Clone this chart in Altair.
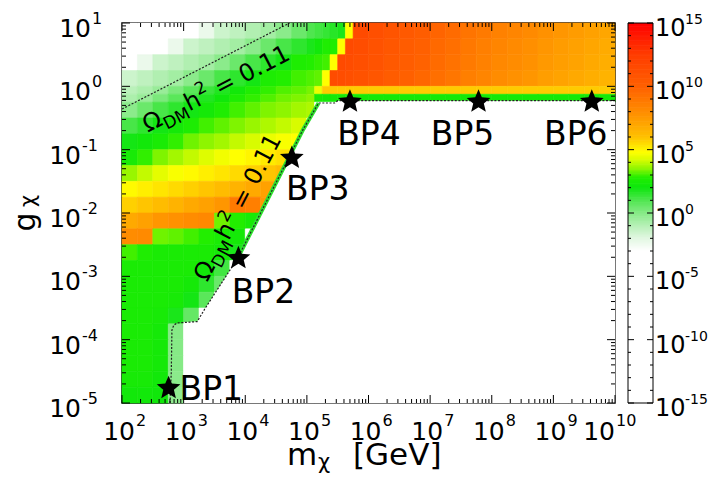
import altair as alt
import numpy as np
import pandas as pd

FONT = "DejaVu Sans"
W_PLOT, H_PLOT = 493, 380
W = -15.0  # white (below colour range)

# ---------------- heat-map grid: log10 of the colour quantity ----------------
# cell edges in log10(m_chi / GeV) and log10(g_chi)
x_edges = [2.0, 2.25, 2.5, 2.75, 3.0, 3.25, 3.5, 3.75, 4.0, 4.25, 4.5, 4.75, 5.0,
           5.125, 5.25, 5.375, 5.5, 5.625, 5.75, 6.0, 6.25, 6.5, 6.75, 7.0, 7.25,
           7.5, 7.75, 8.0, 8.25, 8.5, 8.75, 9.0, 9.25, 9.5, 9.75, 10.0]
y_edges = [-5.0, -4.75, -4.5, -4.25, -4.0, -3.75, -3.5, -3.25, -3.0, -2.75, -2.5,
           -2.25, -2.0, -1.75, -1.5, -1.25, -1.0, -0.75, -0.5, -0.25, -0.125, 0.0,
           0.25, 0.5, 0.75, 1.0]

# rows from top (g ~ 10^0.875) to bottom (g ~ 10^-4.875)
row24 = [-6.0, -5.4, -4.6, -3.9, -3.1, -2.3, -1.5, -1.2, -0.9, -0.6, -0.1, 0.5,
         1.0, 1.2, 1.4, 1.6, 1.8, 4.8,
         11.5, 11.2, 10.8, 10.5, 10.2, 9.8, 9.5, 9.1, 8.8, 8.5, 8.3, 8.1, 7.8, 7.6, 7.4, 7.2, 7.0]
row23 = [-4.6, -3.9, -3.1, -2.3, -1.5, -1.2, -0.9, -0.6, -0.1, 0.5, 1.1, 1.5,
         1.8, 2.2, 2.7, 2.7, 4.8, 11.5,
         11.3, 11.0, 10.6, 10.3, 10.0, 9.6, 9.3, 8.9, 8.6, 8.3, 8.1, 7.9, 7.6, 7.4, 7.2, 7.0, 6.8]
row22 = [-3.1, -2.3, -1.5, -1.2, -0.9, -0.6, -0.1, 0.5, 1.1, 1.5, 1.9, 2.65,
         2.8, 2.9, 3.0, 4.8, 11.5, 11.4,
         11.2, 10.9, 10.5, 10.2, 9.9, 9.5, 9.2, 8.8, 8.5, 8.2, 8.0, 7.8, 7.5, 7.3, 7.1, 6.9, 6.7]
row21 = [-1.5, -1.2, -0.9, -0.6, -0.1, 0.5, 1.1, 1.5, 1.9, 2.6, 2.8, 3.0,
         3.1, 3.2, 4.8, 11.4, 11.3, 11.2,
         11.0, 10.7, 10.3, 10.0, 9.7, 9.3, 9.0, 8.6, 8.3, 8.0, 7.8, 7.6, 7.3, 7.1, 6.9, 6.7, 6.5]
row20 = [-1.1, -0.8, -0.4, 0.2, 0.8, 1.3, 1.7, 2.2, 2.7, 2.9, 3.1, 3.2,
         3.35, 4.5, 5.8, 5.8, 5.8, 5.8] + [5.8] * 17
row19 = [-0.8, -0.4, 0.2, 0.8, 1.3, 1.7, 2.1, 2.6, 2.9, 3.1, 3.3, 3.4,
         3.5, 2.5, 2.3, 2.3, 2.3, 2.3] + [2.3] * 17
row18 = [-0.1, 0.5, 1.1, 1.5, 1.9, 2.3, 2.7, 3.0, 3.2, 3.4, 3.5, 3.7, 3.8] + [W] * 22
row17 = [1.1, 1.5, 1.9, 2.3, 2.6, 3.0, 3.2, 3.4, 3.6, 3.8, 4.0, 4.2] + [W] * 23
row16 = [1.9, 2.2, 2.5, 2.9, 3.3, 3.5, 3.7, 4.0, 4.2, 4.5, 4.7, 4.8] + [W] * 23
row15 = [2.4, 2.9, 3.4, 3.7, 4.0, 4.3, 4.6, 4.8, 5.0, 5.2, 5.4] + [W] * 24
row14 = [3.6, 4.0, 4.4, 4.7, 4.9, 5.1, 5.3, 5.5, 5.7, 5.9, 6.2] + [W] * 24
row13 = [4.9, 5.1, 5.3, 5.5, 5.7, 5.9, 6.15, 6.5, 6.9, 7.2] + [W] * 25
row12 = [5.7, 5.9, 6.15, 6.5, 6.9, 7.2, 7.6, 8.8, 8.6, 7.5] + [W] * 25
row11 = [6.9, 7.2, 7.6, 7.8, 8.0, 8.2, 3.3, 2.8, 2.4] + [W] * 26
row10 = [8.0, 8.1, 3.3, 3.2, 3.0, 2.8, 2.5, 2.3] + [W] * 27
row09 = [3.0, 2.7, 2.5, 2.5, 2.5, 2.5, 2.3, 1.8] + [W] * 27
row08 = [2.5, 2.5, 2.5, 2.5, 2.5, 2.2, 1.2] + [W] * 28
row07 = [2.5, 2.5, 2.5, 2.5, 2.3, 1.5, 0.5] + [W] * 28
row06 = [2.5, 2.5, 2.5, 2.4, 1.9, 0.8] + [W] * 29
row05 = [2.5, 2.5, 2.4, 1.8, 0.6] + [W] * 30
row04 = [2.5, 2.5, 2.3, 0.0] + [W] * 31
row03 = [2.5, 2.5, 2.3, 0.0] + [W] * 31
row02 = [2.5, 2.5, 2.3, 0.0] + [W] * 31
row01 = [2.4, 2.4, 2.2, -0.1] + [W] * 31
row00 = [2.2, 2.2, 2.1, -0.2] + [W] * 31

heat_rows = [row24, row23, row22, row21, row20, row19, row18, row17, row16, row15,
             row14, row13, row12, row11, row10, row09, row08, row07, row06, row05,
             row04, row03, row02, row01, row00]

# relic-density contours (log10 m, log10 g)
lc_x = [2.78, 2.80, 2.81, 2.84, 2.90, 3.22, 3.34, 3.875, 4.94, 5.19, 5.45, 5.50, 10.0]
lc_y = [-5.0, -4.5, -3.85, -3.77, -3.735, -3.715, -3.52, -2.716, -0.68, -0.263, -0.263, -0.227, -0.227]
uc_x = [2.0, 3.36, 4.72]
uc_y = [-0.358, 0.321, 1.0]

# benchmark points
bp_names = ["BP1", "BP2", "BP3", "BP4", "BP5", "BP6"]
bp_m = [570.0, 7.75e3, 5.7e4, 5.0e5, 6.1e7, 4.2e9]
bp_g = [1.72e-5, 1.93e-3, 7.4e-2, 0.571, 0.571, 0.571]

# contour-label anchors (start of the "Omega")
clab_m = [262.0, 2415.0]
clab_g = [0.185, 7.96e-4]

# colour bar
cbar_min, cbar_max = -15, 15
cbar_label_exp = [15, 10, 5, 0, -5, -10, -15]
c_stops = [-15, -3, -2, -1, 0, 1, 2, 2.8, 3.5, 4.2, 4.8, 6, 8, 10, 12.5, 15]
c_cols = ["#ffffff", "#ffffff", "#e2f7e2", "#b6f0b6", "#86ea86", "#4fe64f", "#0de60d",
          "#22ee00", "#8ef500", "#d8fc00", "#ffff00", "#ffc000", "#ff8c00", "#ff6000",
          "#ff3c00", "#ff0000"]

# ---------------- build tables ----------------
cells = []
nrow = len(y_edges) - 1
for ri, row in enumerate(heat_rows):
    j = nrow - 1 - ri
    for i, v in enumerate(row):
        cells.append(dict(m0=10 ** x_edges[i], m1=10 ** x_edges[i + 1],
                          g0=10 ** y_edges[j], g1=10 ** y_edges[j + 1], v=v))
df_cells = pd.DataFrame(cells)

df_lc = pd.DataFrame({"m": [10 ** v for v in lc_x], "g": [10 ** v for v in lc_y],
                      "idx": range(len(lc_x)), "id": "lower"})
df_uc = pd.DataFrame({"m": [10 ** v for v in uc_x], "g": [10 ** v for v in uc_y],
                      "idx": range(len(uc_x)), "id": "upper"})
df_cont = pd.concat([df_lc, df_uc], ignore_index=True)
df_mask = pd.DataFrame({"m": [10 ** 3.0] + [10 ** v for v in lc_x[5:]],
                        "g": [10 ** -3.72] + [10 ** v for v in lc_y[5:]]})
df_strip = df_lc.iloc[7:10]
df_bp = pd.DataFrame({"name": bp_names, "m": bp_m, "g": bp_g})
df_clab = pd.DataFrame({"m": clab_m, "g": clab_g})
one = pd.DataFrame({"a": [0]})

xs = alt.Scale(type="log", domain=[1e2, 1e10], nice=False)
ys = alt.Scale(type="log", domain=[1e-5, 1e1], nice=False)
cscale = alt.Scale(domain=c_stops, range=c_cols, interpolate="rgb", clamp=True)


def X(f="m"):
    return alt.X(f"{f}:Q", scale=xs, axis=None)


def Y(f="g"):
    return alt.Y(f"{f}:Q", scale=ys, axis=None)


TXT = dict(font=FONT, color="black")
layers = []

# heat map
layers.append(alt.Chart(df_cells).mark_rect(strokeWidth=0.6).encode(
    x=X("m0"), x2="m1:Q", y=Y("g0"), y2="g1:Q",
    color=alt.Color("v:Q", scale=cscale, legend=None),
    stroke=alt.Stroke("v:Q", scale=cscale, legend=None)))
# white beyond the lower contour
layers.append(alt.Chart(df_mask).mark_area(color="white", interpolate="linear").encode(
    x=X(), y=Y(), y2=alt.Y2Datum(1e-5)))
# thin green rim along lower contour
layers.append(alt.Chart(df_strip).mark_line(color="#2ee02e", strokeWidth=4).encode(
    x=X(), y=Y(), order="idx:Q"))
# dotted contours
layers.append(alt.Chart(df_cont).mark_line(color="#222222", strokeDash=[2, 1.6], strokeWidth=1.2).encode(
    x=X(), y=Y(), detail="id:N", order="idx:Q"))

# stars
STAR = ("M0,-1L0.2645,-0.3641L0.9511,-0.309L0.428,0.1391L0.5878,0.809L0,0.45"
        "L-0.5878,0.809L-0.428,0.1391L-0.9511,-0.309L-0.2645,-0.3641Z")
layers.append(alt.Chart(df_bp).mark_point(shape=STAR, size=620, filled=True, color="black",
                                          opacity=1, strokeWidth=0).encode(x=X(), y=Y()))
bp_off = [("left", 11, 12), ("center", 25, 45), ("center", 26, 42),
          ("center", 19, 43), ("center", -16, 43), ("center", -16, 43)]
for k, (al, dx, dy) in enumerate(bp_off):
    layers.append(alt.Chart(df_bp.iloc[[k]]).mark_text(
        fontSize=33, align=al, dx=dx, dy=dy, baseline="alphabetic", **TXT).encode(
        x=X(), y=Y(), text="name:N"))

# contour labels  "Omega_DM h^2 = 0.11"
segs = [("Ω", 24, 0, 0), ("DM", 17, 18.5, 6), ("h", 24, 46.5, 0), ("2", 17, 62, -10),
        ("= 0.11", 24, 80.5, 0)]
for k, ang in enumerate([332.8, 297.5]):
    for t, fs, dx, dy in segs:
        layers.append(alt.Chart(df_clab.iloc[[k]]).mark_text(
            text=t, fontSize=fs, dx=dx, dy=dy, angle=ang, align="left",
            baseline="alphabetic", **TXT).encode(x=X(), y=Y()))

# ticks (inward, all four sides)
x_major = [10.0 ** e for e in range(2, 11)]
x_minor = [k * 10.0 ** e for e in range(2, 10) for k in range(2, 10)]
y_major = [10.0 ** e for e in range(-5, 2)]
y_minor = [k * 10.0 ** e for e in range(-5, 1) for k in range(2, 10)]
for vals, L in [(x_major, 8), (x_minor, 4)]:
    d = pd.DataFrame({"m": vals})
    layers.append(alt.Chart(d).mark_rule(color="black", strokeWidth=1).encode(
        x=X(), y=alt.value(H_PLOT), y2=alt.value(H_PLOT - L)))
    layers.append(alt.Chart(d).mark_rule(color="black", strokeWidth=1).encode(
        x=X(), y=alt.value(0), y2=alt.value(L)))
for vals, L in [(y_major, 8), (y_minor, 4)]:
    d = pd.DataFrame({"g": vals})
    layers.append(alt.Chart(d).mark_rule(color="black", strokeWidth=1).encode(
        y=Y(), x=alt.value(0), x2=alt.value(L)))
    layers.append(alt.Chart(d).mark_rule(color="black", strokeWidth=1).encode(
        y=Y(), x=alt.value(W_PLOT), x2=alt.value(W_PLOT - L)))

# tick labels 10^n
x_lab = pd.DataFrame({"m": x_major, "e": [str(e) for e in range(2, 11)]})
for sub, dx in [(x_lab[x_lab.e.str.len() == 1], 13), (x_lab[x_lab.e.str.len() == 2], 0)]:
    layers.append(alt.Chart(sub).mark_text(text="10", fontSize=25, align="right", dx=dx,
                                           baseline="alphabetic", **TXT).encode(
        x=X(), y=alt.value(H_PLOT + 36.5)))
    layers.append(alt.Chart(sub).mark_text(fontSize=16, align="left", dx=dx + 1,
                                           baseline="alphabetic", **TXT).encode(
        x=X(), y=alt.value(H_PLOT + 23), text="e:N"))
y_lab = pd.DataFrame({"g": y_major, "e": [str(e) for e in range(-5, 2)]})
for sub, xx in [(y_lab[~y_lab.e.str.startswith("-")], -31), (y_lab[y_lab.e.str.startswith("-")], -41)]:
    layers.append(alt.Chart(sub).mark_text(text="10", fontSize=25, align="right", dy=14,
                                           baseline="alphabetic", **TXT).encode(
        y=Y(), x=alt.value(xx)))
    layers.append(alt.Chart(sub).mark_text(fontSize=16, align="left", dy=1,
                                           baseline="alphabetic", **TXT).encode(
        y=Y(), x=alt.value(xx + 1), text="e:N"))

# axis titles
layers.append(alt.Chart(one).mark_text(text="m", fontSize=31, align="left", baseline="alphabetic", **TXT)
              .encode(x=alt.value(165), y=alt.value(442)))
layers.append(alt.Chart(one).mark_text(text="χ", fontSize=21, align="left", baseline="alphabetic", **TXT)
              .encode(x=alt.value(196), y=alt.value(446)))
layers.append(alt.Chart(one).mark_text(text="[GeV]", fontSize=31, align="left", baseline="alphabetic", **TXT)
              .encode(x=alt.value(231), y=alt.value(442)))
layers.append(alt.Chart(one).mark_text(text="g", fontSize=30, angle=270, align="center", baseline="middle", **TXT)
              .encode(x=alt.value(-96), y=alt.value(199)))
layers.append(alt.Chart(one).mark_text(text="χ", fontSize=21, angle=270, align="center", baseline="middle", **TXT)
              .encode(x=alt.value(-93), y=alt.value(178)))

main = alt.layer(*layers)

# ---------------- colour bar ----------------
cbx = alt.Scale(domain=[0, 1], range=[506, 531])
cby = alt.Scale(domain=[cbar_min, cbar_max])
lv = np.round(np.arange(cbar_min, cbar_max, 0.1), 2)
df_cb = pd.DataFrame({"lo": lv, "hi": np.minimum(lv + 0.15, cbar_max), "v": lv + 0.05})
cb_layers = []
cb_layers.append(alt.Chart(df_cb).mark_rect(strokeWidth=0).encode(
    x=alt.XDatum(0, scale=cbx, axis=None), x2=alt.X2Datum(1),
    y=alt.Y("lo:Q", scale=cby, axis=None), y2="hi:Q",
    color=alt.Color("v:Q", scale=cscale, legend=None)))
cb_layers.append(alt.Chart(one).mark_rect(fillOpacity=0, stroke="black", strokeWidth=1).encode(
    x=alt.XDatum(0, scale=cbx, axis=None), x2=alt.X2Datum(1),
    y=alt.YDatum(cbar_min, scale=cby, axis=None), y2=alt.Y2Datum(cbar_max)))
lev = list(range(cbar_min, cbar_max + 1))
for vals, L in [([v for v in lev if v % 5], 0.12), ([v for v in lev if v % 5 == 0], 0.24)]:
    d = pd.DataFrame({"lv": vals})
    cb_layers.append(alt.Chart(d).mark_rule(color="black", strokeWidth=1).encode(
        y=alt.Y("lv:Q", scale=cby, axis=None),
        x=alt.XDatum(0, scale=cbx, axis=None), x2=alt.X2Datum(L)))
    cb_layers.append(alt.Chart(d).mark_rule(color="black", strokeWidth=1).encode(
        y=alt.Y("lv:Q", scale=cby, axis=None),
        x=alt.XDatum(1 - L, scale=cbx, axis=None), x2=alt.X2Datum(1)))
df_cbl = pd.DataFrame({"lv": cbar_label_exp, "e": [str(e) for e in cbar_label_exp]})
cb_layers.append(alt.Chart(df_cbl).mark_text(text="10", fontSize=24, align="left", dx=2, dy=13,
                                             baseline="alphabetic", **TXT).encode(
    y=alt.Y("lv:Q", scale=cby, axis=None), x=alt.XDatum(1, scale=cbx, axis=None)))
cb_layers.append(alt.Chart(df_cbl).mark_text(fontSize=14, align="left", dx=32, dy=1,
                                             baseline="alphabetic", **TXT).encode(
    y=alt.Y("lv:Q", scale=cby, axis=None), x=alt.XDatum(1, scale=cbx, axis=None), text="e:N"))
cbar = alt.layer(*cb_layers)

chart = (alt.layer(main, cbar)
         .resolve_scale(x="independent", y="independent")
         .properties(width=W_PLOT, height=H_PLOT,
                     padding={"left": 114, "top": 15, "right": 94, "bottom": 79},
                     autosize=alt.AutoSizeParams(type="none"))
         .configure_view(stroke="black", strokeWidth=1.5))

chart.save("out.html", embed_options={"renderer": "svg", "actions": False})
